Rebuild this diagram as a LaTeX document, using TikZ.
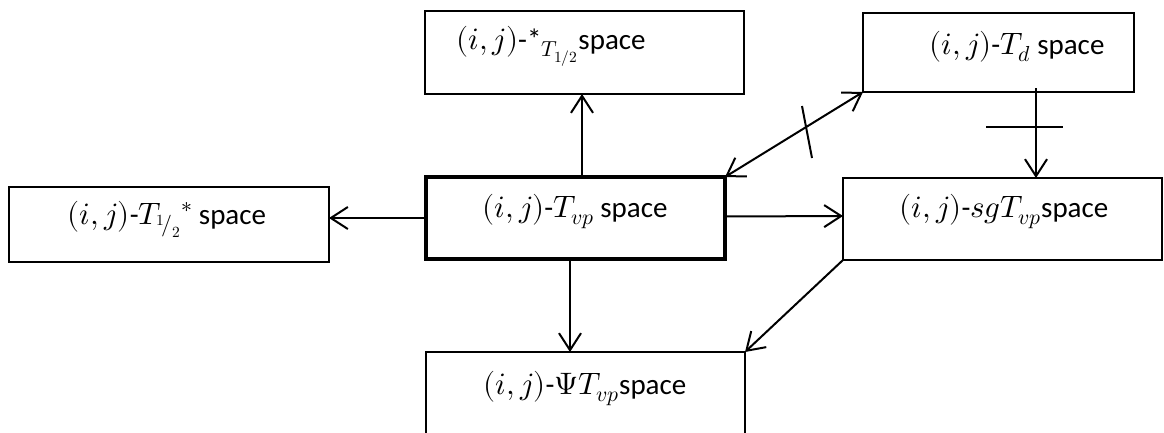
\documentclass[tikz,border=0pt]{standalone}
\usepackage{fontspec}
\usepackage{unicode-math}
\setmainfont{Carlito}
\setmathfont{Latin Modern Math}[Scale=1.07]
\usetikzlibrary{arrows.meta}
\tikzset{
  box/.style={draw, line width=2pt, inner sep=0pt, outer sep=0pt},
  mainbox/.style={draw, line width=3.5pt, inner sep=0pt, outer sep=0pt},
  lbl/.style={inner sep=0pt, anchor=base, font=\fontsize{29}{34}\selectfont},
  arr/.style={line width=2pt, -{Straight Barb[length=17pt,width=22pt,line width=2pt]}},
  darr/.style={line width=2pt, {Straight Barb[length=17pt,width=22pt,line width=2pt]}-{Straight Barb[length=17pt,width=22pt,line width=2pt]}},
  bar/.style={line width=2pt}
}
\begin{document}
\begin{tikzpicture}[x=1pt,y=-1pt]
\useasboundingbox (0,0) rectangle (1164,432);
\clip (0,0) rectangle (1164,432);
% boxes
\node[box, minimum width=319pt, minimum height=83pt] (tb) at (584.5,52.5) {};
\node[box, minimum width=271pt, minimum height=79pt] (td) at (998.5,52.5) {};
\node[box, minimum width=320pt, minimum height=75pt] (lb) at (169,224.5) {};
\node[mainbox, minimum width=299pt, minimum height=82pt] (cb) at (575.5,218) {};
\node[box, minimum width=319pt, minimum height=82pt] (sg) at (1002.5,219) {};
\node[box, minimum width=319pt, minimum height=118pt] (bb) at (585.5,411) {};
% labels
\node[lbl] (ttb) at (551,49) {$(i,j)$-*$_{T_{1/2}}$space};
\node[lbl] (ttd) at (1017,54) {$(i,j)$-$T_d$ space};
\node[lbl] (tlb) at (167,224) {$(i,j)$-$T_{{}^{1}\!/_{2}}{}^{*}$ space};
\node[lbl] (tcb) at (575,217) {$(i,j)$-$T_{vp}$ space};
\node[lbl] (tsg) at (1004,217) {$(i,j)$-$sgT_{vp}$space};
\node[lbl] (tbb) at (585,394) {$(i,j)$-$\mitPsi T_{vp}$space};
% connectors
\draw[arr] ([xshift=6.5pt]cb.north) -- ([xshift=-2.5pt]tb.south);
\draw[arr] (cb.west) -- (cb.west -| lb.east);
\draw[arr] ([yshift=1.5pt]cb.east) -- ([yshift=3pt]sg.west);
\draw[arr] ([xshift=-5.5pt]cb.south) -- ([xshift=-15.5pt]bb.north);
\draw[darr] (cb.north east) -- (td.south west);
\coordinate (c1) at (802,106);
\coordinate (c2) at (812,158);
\draw[bar] (c1) -- (c2);
\draw[arr] ([xshift=37.5pt,yshift=4pt]td.south) -- ([xshift=33.5pt]sg.north);
\coordinate (b1) at (986,127);
\coordinate (b2) at (1063,127);
\draw[bar] (b1) -- (b2);
\draw[arr] (sg.south west) -- (bb.north east);
\end{tikzpicture}
\end{document}
